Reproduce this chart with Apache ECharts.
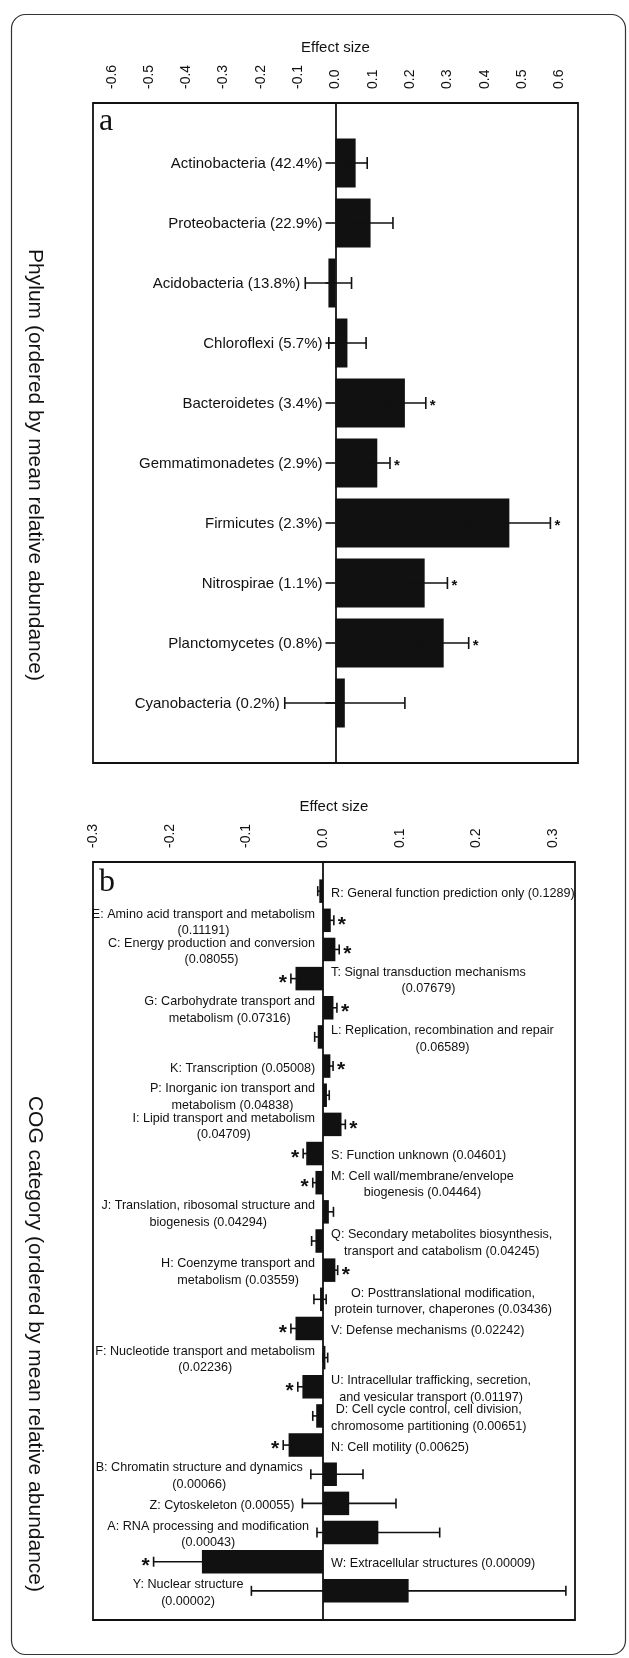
<!DOCTYPE html>
<html>
<head>
<meta charset="utf-8">
<script src="https://cdn.jsdelivr.net/npm/echarts@6/dist/echarts.min.js"></script>
<style>
    html, body { margin: 0; padding: 0; background: #fff; }
    #chart { width: 629px; height: 1658px; }
</style>
</head>
<body>
<div id="chart"></div>
<script>
// Panel a: phyla (ordered by mean relative abundance)
const phylumNames = [
    'Actinobacteria (42.4%)', 'Proteobacteria (22.9%)', 'Acidobacteria (13.8%)',
    'Chloroflexi (5.7%)', 'Bacteroidetes (3.4%)', 'Gemmatimonadetes (2.9%)',
    'Firmicutes (2.3%)', 'Nitrospirae (1.1%)', 'Planctomycetes (0.8%)',
    'Cyanobacteria (0.2%)'
];
const phylumEffect = [0.054, 0.094, -0.019, 0.032, 0.186, 0.112, 0.466, 0.239, 0.290, 0.025];
const phylumErr = [0.031, 0.060, 0.062, 0.050, 0.056, 0.034, 0.110, 0.061, 0.067, 0.161];
const phylumSig = [0, 0, 0, 0, 1, 1, 1, 1, 1, 0];
const phylumTicks = [-0.6, -0.5, -0.4, -0.3, -0.2, -0.1, 0, 0.1, 0.2, 0.3, 0.4, 0.5, 0.6];

// Panel b: COG categories
const cogLabels = [
    'R: General function prediction only (0.1289)',
    'E: Amino acid transport and metabolism\n(0.11191)',
    'C: Energy production and conversion\n(0.08055)',
    'T: Signal transduction mechanisms\n(0.07679)',
    'G: Carbohydrate transport and\nmetabolism (0.07316)',
    'L: Replication, recombination and repair\n(0.06589)',
    'K: Transcription (0.05008)',
    'P: Inorganic ion transport and\nmetabolism (0.04838)',
    'I: Lipid transport and metabolism\n(0.04709)',
    'S: Function unknown (0.04601)',
    'M: Cell wall/membrane/envelope\nbiogenesis (0.04464)',
    'J: Translation, ribosomal structure and\nbiogenesis (0.04294)',
    'Q: Secondary metabolites biosynthesis,\ntransport and catabolism (0.04245)',
    'H: Coenzyme transport and\nmetabolism (0.03559)',
    'O: Posttranslational modification,\nprotein turnover, chaperones (0.03436)',
    'V: Defense mechanisms (0.02242)',
    'F: Nucleotide transport and metabolism\n(0.02236)',
    'U: Intracellular trafficking, secretion,\nand vesicular transport (0.01197)',
    'D: Cell cycle control, cell division,\nchromosome partitioning (0.00651)',
    'N: Cell motility (0.00625)',
    'B: Chromatin structure and dynamics\n(0.00066)',
    'Z: Cytoskeleton (0.00055)',
    'A: RNA processing and modification\n(0.00043)',
    'W: Extracellular structures (0.00009)',
    'Y: Nuclear structure\n(0.00002)'
];
const cogEffect = [-0.005, 0.010, 0.016, -0.036, 0.0135, -0.007, 0.0095, 0.005, 0.024, -0.022,
    -0.010, 0.0075, -0.010, 0.016, -0.004, -0.036, 0.003, -0.027, -0.009, -0.045,
    0.018, 0.034, 0.072, -0.158, 0.1115];
const cogErr = [0.002, 0.004, 0.005, 0.006, 0.0045, 0.004, 0.0035, 0.003, 0.005, 0.004,
    0.0035, 0.006, 0.005, 0.003, 0.008, 0.006, 0.003, 0.006, 0.0045, 0.007,
    0.034, 0.061, 0.080, 0.063, 0.205];
const cogSig = [0, 1, 1, 1, 1, 0, 1, 0, 1, 1, 1, 0, 0, 1, 0, 1, 0, 1, 0, 1, 0, 0, 0, 1, 0];
const cogTicks = [-0.3, -0.2, -0.1, 0, 0.1, 0.2, 0.3];

const FONT = '"Liberation Sans", Arial, sans-serif';
const INK = '#111';

const measureCtx = document.createElement('canvas').getContext('2d');
function blockWidth(text, font) {
    measureCtx.font = font;
    return Math.max(...text.split('\n').map(s => measureCtx.measureText(s).width));
}

// error bar + asterisk renderer
function errorBars(cap, starSize, starGap) {
    return function (params, api) {
        const v = api.value(0), idx = api.value(1), e = api.value(2), sig = api.value(3);
        const lo = api.coord([v - e, idx]);
        const hi = api.coord([v + e, idx]);
        const y = lo[1];
        const ls = { stroke: INK, lineWidth: 1.6 };
        const children = [
            { type: 'line', shape: { x1: lo[0], y1: y, x2: hi[0], y2: y }, style: ls },
            { type: 'line', shape: { x1: lo[0], y1: y - cap, x2: lo[0], y2: y + cap }, style: ls },
            { type: 'line', shape: { x1: hi[0], y1: y - cap, x2: hi[0], y2: y + cap }, style: ls }
        ];
        if (sig) {
            const right = v >= 0;
            children.push({
                type: 'text',
                style: {
                    text: '*', x: right ? hi[0] + starGap : lo[0] - starGap, y: y + starSize * 0.22,
                    align: right ? 'left' : 'right', verticalAlign: 'middle',
                    font: 'bold ' + starSize + 'px ' + FONT, fill: INK
                }
            });
        }
        return { type: 'group', children: children };
    };
}

// phylum names sit left of the zero line, or left of a whisker that crosses it
const phylumFont = '15px ' + FONT;
function phylumLabelItem(params, api) {
    const v = api.value(0), idx = api.value(1), e = api.value(2);
    const p = api.coord([0, idx]);
    const lo = api.coord([v - e, idx]);
    return {
        type: 'text',
        style: {
            text: phylumNames[idx - 1], x: Math.min(p[0] - 13, lo[0] - 5), y: p[1] + 1,
            align: 'right', verticalAlign: 'middle', font: phylumFont, fill: INK
        }
    };
}

// COG labels go on the side opposite to the bar
const cogFont = '12.6px ' + FONT;
function cogLabelItem(params, api) {
    const v = api.value(0), idx = api.value(1), e = api.value(2);
    const text = cogLabels[idx - 1];
    const w = blockWidth(text, cogFont);
    const gap = 8;
    let x;
    if (v >= 0) {
        x = api.coord([Math.min(0, v - e), idx])[0] - gap - w / 2;
    } else {
        x = api.coord([Math.max(0, v + e), idx])[0] + gap + w / 2;
    }
    const y = api.coord([0, idx])[1];
    return {
        type: 'text',
        style: {
            text: text, x: x, y: y + 2, align: 'center', verticalAlign: 'middle',
            font: cogFont, lineHeight: 16.5, fill: INK
        }
    };
}

function topAxis(gridIndex, min, max, ticks) {
    return {
        type: 'value', gridIndex: gridIndex, position: 'top', min: min, max: max,
        name: 'Effect size', nameLocation: 'middle', nameGap: 48,
        nameTextStyle: { fontSize: 15, color: INK, fontFamily: FONT },
        axisLine: { onZero: false, lineStyle: { color: INK, width: 1.8 } },
        axisTick: { customValues: ticks, length: 9, lineStyle: { color: INK, width: 1.6 } },
        axisLabel: {
            customValues: ticks, rotate: -90, margin: 14, fontSize: 14, color: INK,
            fontFamily: FONT, formatter: v => v.toFixed(1)
        },
        splitLine: { show: false }
    };
}

const chart = echarts.init(document.getElementById('chart'));

const option = {
    animation: false,
    backgroundColor: '#fff',
    textStyle: { fontFamily: FONT },
    grid: [
        {
            left: 93, top: 103, width: 485, height: 660, containLabel: false, outerBoundsMode: 'none',
            show: true, borderColor: INK, borderWidth: 1.8
        },
        {
            left: 93, top: 862, width: 482, height: 758, containLabel: false, outerBoundsMode: 'none',
            show: true, borderColor: INK, borderWidth: 1.8
        }
    ],
    xAxis: [
        topAxis(0, -0.65, 0.65, phylumTicks),
        topAxis(1, -0.3, 0.3284, cogTicks)
    ],
    yAxis: [
        {
            type: 'category', gridIndex: 0, inverse: true, boundaryGap: false,
            data: [''].concat(phylumNames, ['']),
            axisLine: { onZero: true, lineStyle: { color: INK, width: 1.8 } },
            axisTick: { length: 10, lineStyle: { color: INK, width: 1.6 } },
            axisLabel: { show: false },
            splitLine: { show: false }
        },
        {
            type: 'category', gridIndex: 1, inverse: true, boundaryGap: false,
            data: [''].concat(cogLabels.map(s => s.charAt(0)), ['']),
            axisLine: { onZero: true, lineStyle: { color: INK, width: 1.8 } },
            axisTick: { show: false },
            axisLabel: { show: false },
            splitLine: { show: false }
        }
    ],
    series: [
        {
            type: 'bar', xAxisIndex: 0, yAxisIndex: 0, barWidth: 49,
            itemStyle: { color: INK },
            data: [null].concat(phylumEffect, [null])
        },
        {
            type: 'custom', xAxisIndex: 0, yAxisIndex: 0, clip: false, z: 3,
            renderItem: errorBars(6, 15, 4),
            data: phylumEffect.map((v, i) => [v, i + 1, phylumErr[i], phylumSig[i]])
        },
        {
            type: 'custom', xAxisIndex: 0, yAxisIndex: 0, clip: false, z: 4,
            renderItem: phylumLabelItem,
            data: phylumEffect.map((v, i) => [v, i + 1, phylumErr[i]])
        },
        {
            type: 'bar', xAxisIndex: 1, yAxisIndex: 1, barWidth: 23.5,
            itemStyle: { color: INK },
            data: [null].concat(cogEffect, [null])
        },
        {
            type: 'custom', xAxisIndex: 1, yAxisIndex: 1, clip: false, z: 3,
            renderItem: errorBars(5, 21, 4),
            data: cogEffect.map((v, i) => [v, i + 1, cogErr[i], cogSig[i]])
        },
        {
            type: 'custom', xAxisIndex: 1, yAxisIndex: 1, clip: false, z: 4,
            renderItem: cogLabelItem,
            data: cogEffect.map((v, i) => [v, i + 1, cogErr[i]])
        }
    ],
    graphic: [
        {
            type: 'rect', left: 9, top: 12, z: -1,
            shape: { width: 614, height: 1640, r: 14 },
            style: { fill: 'none', stroke: '#333', lineWidth: 1.2 }
        },
        {
            type: 'text', x: 99, y: 138,
            style: { text: 'a', font: '32px "Liberation Serif", serif', fill: INK, verticalAlign: 'bottom' }
        },
        {
            type: 'text', x: 99, y: 899,
            style: { text: 'b', font: '32px "Liberation Serif", serif', fill: INK, verticalAlign: 'bottom' }
        },
        {
            type: 'text', x: 35, y: 465, rotation: -Math.PI / 2,
            style: {
                text: 'Phylum (ordered by mean relative abundance)', font: '21px ' + FONT,
                fill: INK, align: 'center', verticalAlign: 'middle'
            }
        },
        {
            type: 'text', x: 35, y: 1344, rotation: -Math.PI / 2,
            style: {
                text: 'COG category (ordered by mean relative abundance)', font: '21px ' + FONT,
                fill: INK, align: 'center', verticalAlign: 'middle'
            }
        }
    ]
};

chart.setOption(option);
</script>
</body>
</html>
